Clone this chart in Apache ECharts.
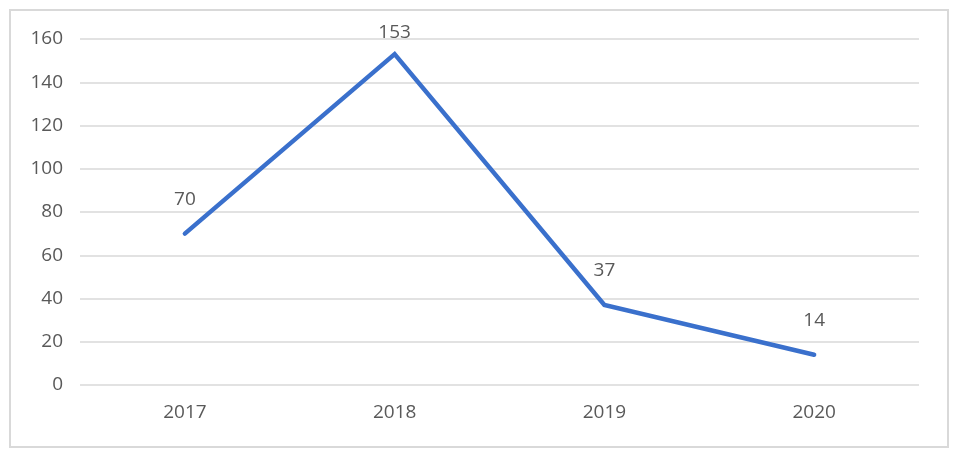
<!DOCTYPE html>
<html>
<head>
<meta charset="utf-8">
<script src="https://cdn.jsdelivr.net/npm/echarts@6/dist/echarts.min.js"></script>
<style>
html,body{margin:0;padding:0;background:#fff;}
#c{width:960px;height:458px;}
</style>
</head>
<body>
<div id="c"></div>
<script>
var categories = ['2017', '2018', '2019', '2020'];
var values = [70, 153, 37, 14];
var labelDistances = [24, 11, 24, 24];
var yTicks = { min: 0, max: 160, interval: 20 };

var chart = echarts.init(document.getElementById('c'));
var font = '"Open Sans", "Noto Sans", sans-serif';
chart.setOption({
  animation: false,
  graphic: [{
    type: 'rect',
    shape: { x: 10, y: 10, width: 938, height: 437 },
    style: { fill: 'none', stroke: '#d9d9d9', lineWidth: 2 }
  }],
  grid: { left: 80, right: 41, top: 39, bottom: 73, containLabel: false },
  xAxis: {
    type: 'category',
    data: categories,
    axisLine: { show: false },
    axisTick: { show: false },
    axisLabel: { color: '#595959', fontSize: 19, fontFamily: font, margin: 18 }
  },
  yAxis: {
    type: 'value',
    min: yTicks.min, max: yTicks.max, interval: yTicks.interval,
    axisLine: { show: false },
    axisTick: { show: false },
    splitLine: { lineStyle: { color: '#d9d9d9', width: 1.5 } },
    axisLabel: { color: '#595959', fontSize: 19, fontFamily: font, margin: 17 }
  },
  series: [{
    type: 'line',
    data: values.map(function (v, i) {
      return { value: v, label: { distance: labelDistances[i] } };
    }),
    symbol: 'circle',
    symbolSize: 2,
    showSymbol: true,
    itemStyle: { color: '#3A70CC' },
    lineStyle: { color: '#3A70CC', width: 4.5, cap: 'round', join: 'miter' },
    label: { show: true, position: 'top', color: '#595959', fontSize: 19, fontFamily: font }
  }]
});
</script>
</body>
</html>
